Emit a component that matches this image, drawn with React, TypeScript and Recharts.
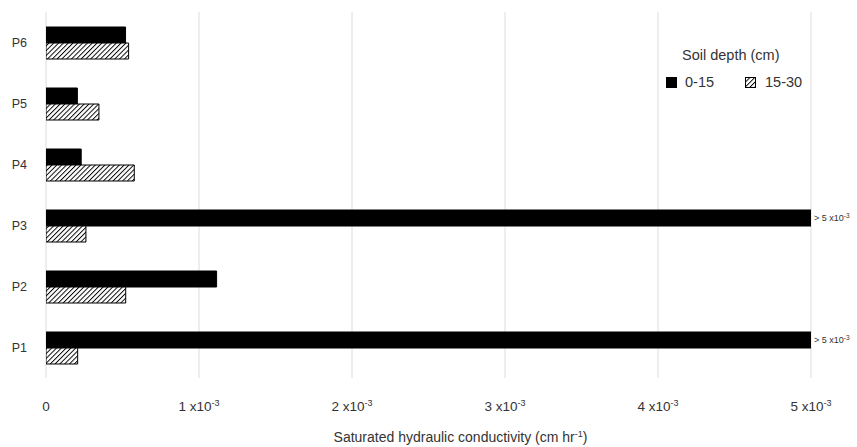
import React from 'react';
import {
  Bar,
  BarChart,
  CartesianGrid,
  LabelList,
  XAxis,
  YAxis,
} from 'recharts';

const plots = ['P6', 'P5', 'P4', 'P3', 'P2', 'P1'];
const depth0to15 = [0.00052, 0.000205, 0.00023, 0.005, 0.001115, 0.005];
const depth15to30 = [0.00054, 0.000346, 0.000577, 0.000261, 0.000521, 0.000207];
// bars that run off the axis
const overflow = ['', '', '', '> 5 x10', '', '> 5 x10'];
const xTicks = [0, 0.001, 0.002, 0.003, 0.004, 0.005];
const xTickLabels = ['0', '1 x10', '2 x10', '3 x10', '4 x10', '5 x10'];

const data = plots.map((name, i) => ({
  name,
  shallow: depth0to15[i],
  deep: depth15to30[i],
  over: overflow[i],
}));

const textColor = '#333';
const font = '"Liberation Sans", Arial, sans-serif';

const XTick = (props: any) => {
  const { x, y, payload } = props;
  const i = xTicks.indexOf(payload.value);
  const label = xTickLabels[i] ?? '';
  return (
    <text x={x} y={y + 25} textAnchor="middle" fontSize={13.5} fill={textColor} fontFamily={font}>
      {label}
      {i > 0 && (
        <tspan fontSize={9} dy={-5}>
          -3
        </tspan>
      )}
    </text>
  );
};

const OverLabel = (props: any) => {
  const { x, y, width, height, value } = props;
  if (!value) return null;
  return (
    <text x={x + width + 3} y={y + height / 2 + 3} fontSize={9} fill={textColor} fontFamily={font}>
      {value}
      <tspan fontSize={6.5} dy={-3.5}>
        -3
      </tspan>
    </text>
  );
};

const AxisTitle = (props: any) => {
  const { viewBox } = props;
  const cx = viewBox.x + viewBox.width / 2 + 32;
  return (
    <text x={cx} y={viewBox.y + 64} textAnchor="middle" fontSize={14} fill={textColor} fontFamily={font}>
      Saturated hydraulic conductivity (cm hr
      <tspan fontSize={9} dy={-5}>
        -1
      </tspan>
      <tspan dy={5}>)</tspan>
    </text>
  );
};

const Hatch = ({ id }: { id: string }) => (
  <pattern id={id} width={3.4} height={3.4} patternUnits="userSpaceOnUse" patternTransform="rotate(45)">
    <rect width={3.4} height={3.4} fill="#fff" />
    <line x1={0} y1={0} x2={0} y2={3.4} stroke="#000" strokeWidth={1.9} />
  </pattern>
);

const LegendBox = () => (
  <div
    style={{
      position: 'absolute',
      left: 666,
      top: 47,
      fontFamily: font,
      color: textColor,
      fontSize: 14.5,
      lineHeight: '17px',
    }}
  >
    <div style={{ marginLeft: 16, marginBottom: 10 }}>Soil depth (cm)</div>
    <div style={{ display: 'flex', alignItems: 'center' }}>
      <span style={{ width: 11, height: 11, background: '#000', display: 'inline-block' }} />
      <span style={{ marginLeft: 8, width: 60 }}>0-15</span>
      <svg width={11} height={11} style={{ display: 'inline-block' }}>
        <defs>
          <Hatch id="hatchLegend" />
        </defs>
        <rect x={0.5} y={0.5} width={10} height={10} fill="url(#hatchLegend)" stroke="#000" />
      </svg>
      <span style={{ marginLeft: 9 }}>15-30</span>
    </div>
  </div>
);

export default function App() {
  return (
    <div style={{ position: 'absolute', left: 0, top: 0, width: 857, height: 447, background: '#fff' }}>
      <BarChart
        width={857}
        height={447}
        data={data}
        layout="vertical"
        margin={{ top: 12, right: 46, left: 0, bottom: 0 }}
        barGap={0}
        style={{ fontFamily: font }}
      >
        <defs>
          <Hatch id="hatch" />
        </defs>
        <CartesianGrid horizontal={false} stroke="#dcdcdc" />
        <XAxis
          type="number"
          domain={[0, 0.005]}
          ticks={xTicks}
          height={69}
          axisLine={false}
          tickLine={false}
          tick={<XTick />}
          allowDataOverflow
          label={{ content: <AxisTitle /> }}
        />
        <YAxis
          type="category"
          dataKey="name"
          width={46}
          axisLine={false}
          tickLine={false}
          tickMargin={13}
          tick={{ fontSize: 12.5, fill: textColor }}
        />
        <Bar dataKey="shallow" name="0-15" fill="#000" stroke="#000" barSize={16} isAnimationActive={false}>
          <LabelList dataKey="over" content={<OverLabel />} />
        </Bar>
        <Bar dataKey="deep" name="15-30" fill="url(#hatch)" stroke="#000" barSize={16} isAnimationActive={false} />
      </BarChart>
      <LegendBox />
    </div>
  );
}
